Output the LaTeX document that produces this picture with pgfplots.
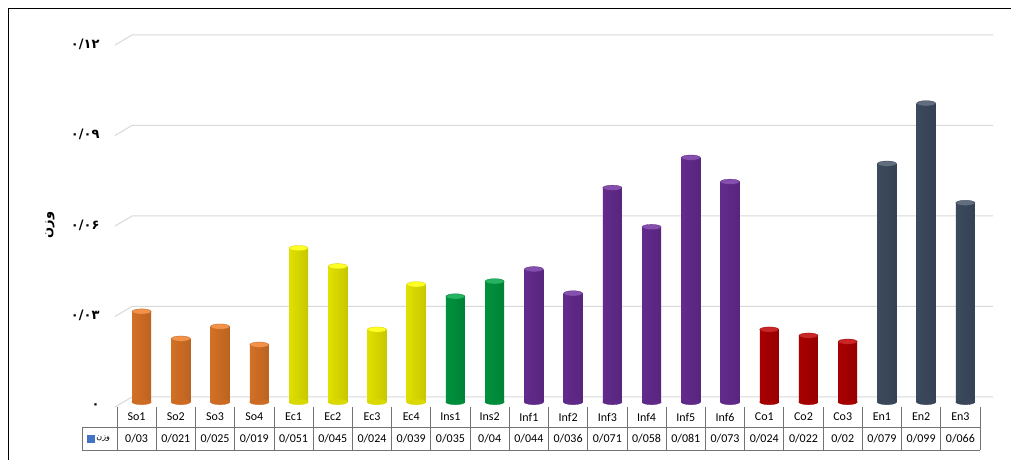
\documentclass[border=0pt]{standalone}
\usepackage{pgfplots}
\pgfplotsset{compat=1.18}
\usepackage{fontspec}
\setmainfont{Carlito}
\newfontfamily\arabicfont[Script=Arabic]{DejaVu Sans}
\newfontfamily\pdigits{DejaVu Sans}
\TeXXeTstate=1

\definecolor{cso}{HTML}{F07F2A}
\definecolor{cec}{HTML}{FFFF00}
\definecolor{cins}{HTML}{00A645}
\definecolor{cinf}{HTML}{7030A0}
\definecolor{cco}{HTML}{C00000}
\definecolor{cen}{HTML}{44546A}
\definecolor{ckey}{HTML}{4472C4}
\definecolor{gridc}{HTML}{D9D9D9}

\pgfplotsset{
  cylbot/.style={forget plot, only marks, mark=*, mark size=9.5pt, color=#1!85!black,
    mark options={xshift=5pt, yscale=0.28, fill=#1!85!black, draw=#1!85!black}},
  cylbar/.style={forget plot, ybar, bar width=19pt, bar shift=5pt, draw=none,
    left color=#1!88!black, middle color=#1, right color=#1!78!black},
  cyltop/.style={forget plot, only marks, mark=*, mark size=9.5pt, color=#1!80!black,
    mark options={xshift=5pt, yscale=0.28, fill=#1!85!white, draw=#1!80!black, line width=0.3pt}},
}

% one cylinder: category index, weight, colour
\newcommand\onecyl[3]{%
  \addplot[cylbot=#3] coordinates {(#1,0)};
  \addplot[cylbar=#3] coordinates {(#1,#2)};
  \addplot[cyltop=#3] coordinates {(#1,#2)};
}

\begin{document}
\begin{tikzpicture}[x=1pt, y=1pt]
\path[use as bounding box, fill=white] (0,0) rectangle (1011,460);
% frame
\draw[black, line width=1pt] (8,0) -- (8,451) -- (1011,451);
% back wall grid lines
\foreach \yy in {58,148.5,239,329.5,420}
  \draw[gridc, line width=1pt] (115,\yy-5) -- (132,\yy+5) -- (993,\yy+5);

\begin{axis}[
  at={(117pt,58pt)}, anchor=south west,
  scale only axis, width=863pt, height=362pt,
  xmin=-0.5, xmax=21.5, ymin=0, ymax=0.12,
  clip=false,
  axis line style={draw=none},
  major tick length=0pt,
  xtick={0,...,21},
  xticklabels={So1,So2,So3,So4,Ec1,Ec2,Ec3,Ec4,Ins1,Ins2,Inf1,Inf2,Inf3,Inf4,Inf5,Inf6,Co1,Co2,Co3,En1,En2,En3},
  xticklabel style={anchor=center, yshift=-15pt, font=\fontsize{12}{14}\selectfont},
  extra x ticks={0,...,21},
  extra x tick labels={0/03,0/021,0/025,0/019,0/051,0/045,0/024,0/039,0/035,0/04,0/044,0/036,0/071,0/058,0/081,0/073,0/024,0/022,0/02,0/079,0/099,0/066},
  extra x tick style={xticklabel style={yshift=-21.5pt}},
  ytick={0,0.03,0.06,0.09,0.12},
  yticklabels={۰,۰/۰۳,۰/۰۶,۰/۰۹,۰/۱۲},
  yticklabel style={anchor=east, xshift=-14pt, yshift=-4pt, font=\pdigits\bfseries\fontsize{13}{15}\selectfont},
  ylabel={\beginR وزن\endR},
  ylabel style={at={(axis description cs:-0.0776,0.489)}, anchor=center, font=\arabicfont\bfseries\fontsize{13}{15}\selectfont},
  legend style={at={(axis description cs:-0.0203,-0.1008)}, anchor=center,
    draw=none, fill=none, inner sep=0pt, font=\arabicfont\fontsize{8}{9}\selectfont},
]
\addlegendimage{legend image code/.code={\fill[ckey] (0pt,-3.5pt) rectangle (7pt,3.5pt);}}
\addlegendentry{\beginR وزن\endR}
\onecyl{0}{0.030}{cso}
\onecyl{1}{0.021}{cso}
\onecyl{2}{0.025}{cso}
\onecyl{3}{0.019}{cso}
\onecyl{4}{0.051}{cec}
\onecyl{5}{0.045}{cec}
\onecyl{6}{0.024}{cec}
\onecyl{7}{0.039}{cec}
\onecyl{8}{0.035}{cins}
\onecyl{9}{0.040}{cins}
\onecyl{10}{0.044}{cinf}
\onecyl{11}{0.036}{cinf}
\onecyl{12}{0.071}{cinf}
\onecyl{13}{0.058}{cinf}
\onecyl{14}{0.081}{cinf}
\onecyl{15}{0.073}{cinf}
\onecyl{16}{0.024}{cco}
\onecyl{17}{0.022}{cco}
\onecyl{18}{0.020}{cco}
\onecyl{19}{0.079}{cen}
\onecyl{20}{0.099}{cen}
\onecyl{21}{0.066}{cen}
\end{axis}

% data table lines
\begin{scope}[black!55, line width=0.8pt]
\draw (82,33) -- (980,33);
\draw (82,10) -- (980,10);
\draw (82,33) -- (82,10);
\foreach \k in {0,...,22}
  \draw (117+39.227*\k,53) -- (117+39.227*\k,10);
\end{scope}
\end{tikzpicture}
\end{document}
